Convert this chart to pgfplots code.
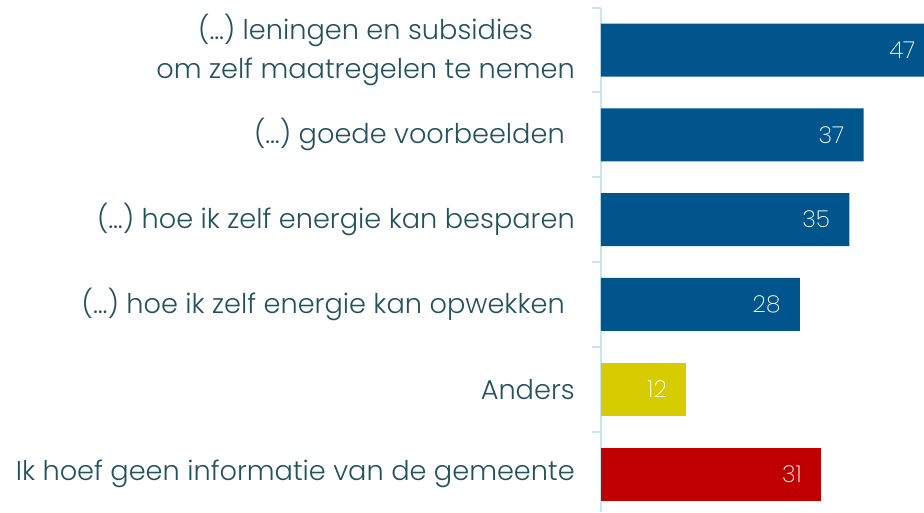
\documentclass[border=0pt]{standalone}
\usepackage{pgfplots}
\pgfplotsset{compat=1.18}
\usepackage{fontspec}
\setmainfont{Poppins Light}
\newfontfamily\thinfont{Poppins ExtraLight}
\definecolor{txt}{HTML}{24525C}
\definecolor{barblue}{HTML}{00558C}
\definecolor{baryellow}{HTML}{D6CC00}
\definecolor{barred}{HTML}{C00000}
\definecolor{axline}{HTML}{C8E6EF}
\begin{document}
\begin{tikzpicture}
\begin{axis}[
  scale only axis,
  width=242.25pt, height=378.3pt,
  xmin=0, xmax=45.5,
  ymin=-0.5, ymax=5.448,
  y dir=reverse,
  clip=false,
  axis x line=none,
  axis y line*=left,
  y axis line style={draw=axline, line width=1.5pt, -},
  xbar, bar width=39.75pt,
  ytick={0,1,2,3,4,5},
  yticklabels={{(…) leningen en subsidies\\om zelf maatregelen te nemen},{(…) goede voorbeelden\kern7.5pt},{(…) hoe ik zelf energie kan besparen},{(…) hoe ik zelf energie kan opwekken\kern7.5pt},{Anders},{Ik hoef geen informatie van de gemeente}},
  yticklabel style={align=center, anchor=east, inner sep=0pt, xshift=-19.5pt, text=txt, font=\fontsize{20.4}{29}\selectfont},
  major tick length=0pt,
  minor ytick={-0.5,0.5,1.5,2.5,3.5,4.5},
  minor tick length=6.75pt,
  tick align=outside,
  minor tick style={draw=axline, line width=1.5pt},
  nodes near coords,
  /pgf/number format/assume math mode=true,
  nodes near coords style={anchor=east, xshift=-11pt, text=white, font=\thinfont\fontsize{17.5}{17.5}\selectfont},
]
\addplot[fill=barblue, draw=none, bar shift=0pt] coordinates {(47,0) (37,1) (35,2) (28,3)};
\addplot[fill=baryellow, draw=none, bar shift=0pt] coordinates {(12,4)};
\addplot[fill=barred, draw=none, bar shift=0pt] coordinates {(31,5)};
\end{axis}
\pgfresetboundingbox
\path[use as bounding box] ([xshift=-450.75pt,yshift=5.7pt]current axis.north west) rectangle (current axis.south east);
\end{tikzpicture}
\end{document}
